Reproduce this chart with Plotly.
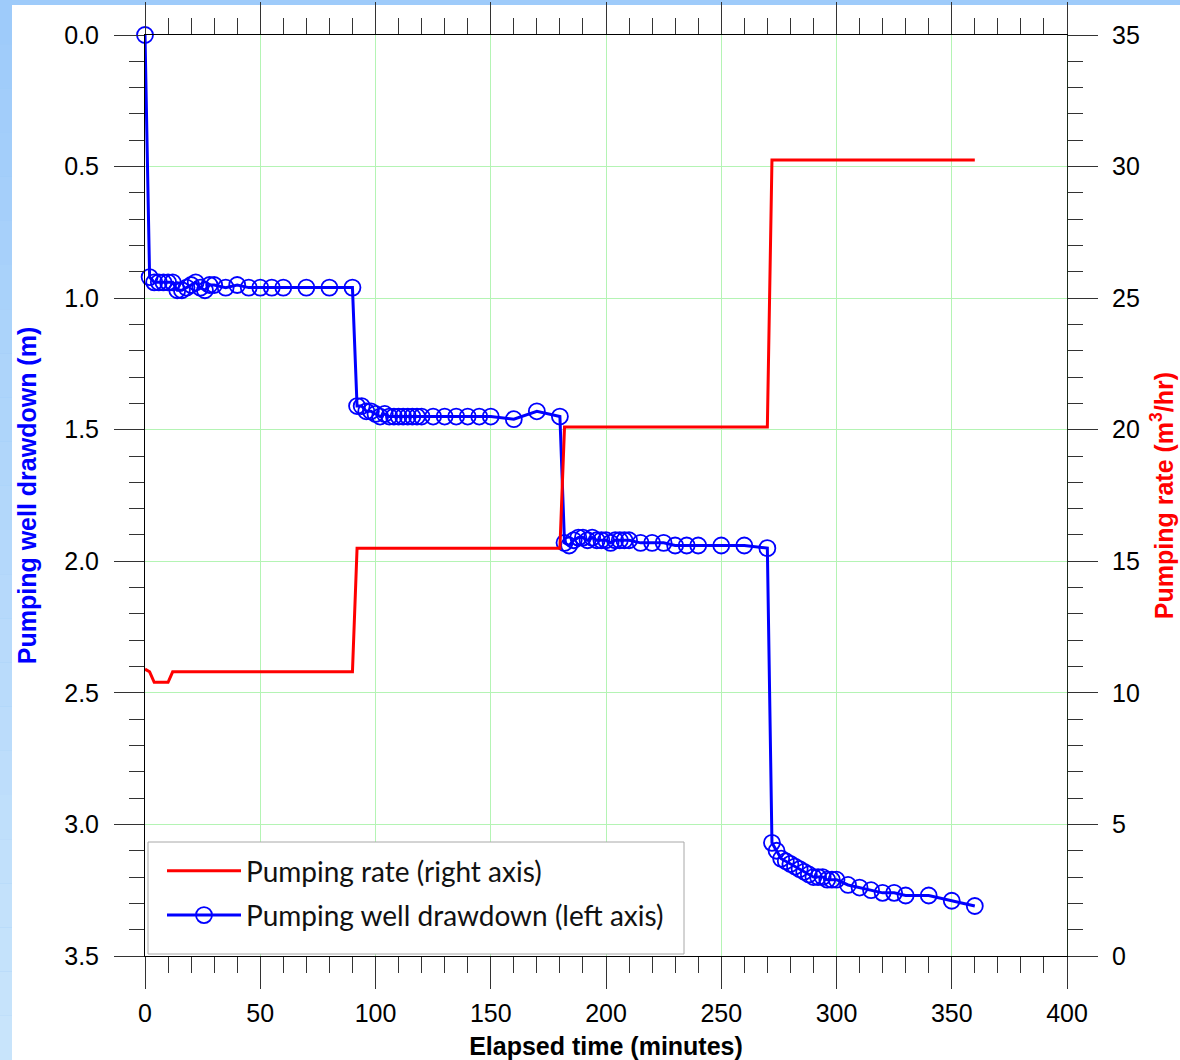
import plotly.graph_objects as go

# ---------------- data ----------------
time_min = [0, 2, 4, 6, 8, 10, 12, 14, 16, 18, 20, 22, 24, 26, 28, 30,
            35, 40, 45, 50, 55, 60, 70, 80, 90,
            92, 94, 96, 98, 100, 102, 104, 106, 108, 110, 112, 114, 116, 118, 120,
            125, 130, 135, 140, 145, 150, 160, 170, 180,
            182, 184, 186, 188, 190, 192, 194, 196, 198, 200, 202, 204, 206, 208, 210,
            215, 220, 225, 230, 235, 240, 250, 260, 270,
            272, 274, 276, 278, 280, 282, 284, 286, 288, 290, 292, 294, 296, 298, 300,
            305, 310, 315, 320, 325, 330, 340, 350, 360]

drawdown_m = [0.00, 0.92, 0.94, 0.94, 0.94, 0.94, 0.94, 0.97, 0.97, 0.96, 0.95, 0.94, 0.96, 0.97, 0.95, 0.95,
              0.96, 0.95, 0.96, 0.96, 0.96, 0.96, 0.96, 0.96, 0.96,
              1.41, 1.41, 1.43, 1.43, 1.44, 1.45, 1.44, 1.45, 1.45, 1.45, 1.45, 1.45, 1.45, 1.45, 1.45,
              1.45, 1.45, 1.45, 1.45, 1.45, 1.45, 1.46, 1.43, 1.45,
              1.93, 1.94, 1.92, 1.91, 1.91, 1.92, 1.91, 1.92, 1.92, 1.92, 1.93, 1.92, 1.92, 1.92, 1.92,
              1.93, 1.93, 1.93, 1.94, 1.94, 1.94, 1.94, 1.94, 1.95,
              3.07, 3.10, 3.13, 3.14, 3.15, 3.16, 3.17, 3.18, 3.19, 3.20, 3.20, 3.20, 3.21, 3.21, 3.21,
              3.23, 3.24, 3.25, 3.26, 3.26, 3.27, 3.27, 3.29, 3.31]

rate_time = [0, 2, 4, 10, 12, 90, 92, 180, 182, 270, 272, 360]
rate_m3hr = [10.9, 10.8, 10.4, 10.4, 10.8, 10.8, 15.5, 15.5, 20.1, 20.1, 30.25, 30.25]

x_ticks = [0, 50, 100, 150, 200, 250, 300, 350, 400]
y_left_ticks = [0.0, 0.5, 1.0, 1.5, 2.0, 2.5, 3.0, 3.5]
y_right_ticks = [0, 5, 10, 15, 20, 25, 30, 35]

# ---------------- figure ----------------
AX_FONT = "Liberation Sans, Arial, sans-serif"
TICK_COL = "#333333"
GRID_COL = "#b4f4b4"

fig = go.Figure()
fig.add_trace(go.Scatter(
    x=time_min, y=drawdown_m, yaxis="y", mode="lines+markers",
    name="Pumping well drawdown (left axis)", legendgroup="dd", legendrank=2,
    line=dict(color="#0000ff", width=3), cliponaxis=False,
    marker=dict(symbol="circle-open", size=16, color="#0000ff", line=dict(width=1.8, color="#0000ff")),
))
fig.add_trace(go.Scatter(
    x=rate_time, y=rate_m3hr, yaxis="y2", mode="lines",
    name="Pumping rate (right axis)", legendgroup="q", legendrank=1,
    line=dict(color="#ff0000", width=3),
))

# page background: blue frame with white sheet
PW, PH = 922.0, 921.0
ML, MB = 145.0, 104.0
shapes = []
top_rgb = (158, 203, 250)
bot_rgb = (200, 228, 251)
N = 24
for i in range(N):
    f = i / (N - 1)
    c = tuple(int(round(bot_rgb[k] + (top_rgb[k] - bot_rgb[k]) * f)) for k in range(3))
    y0 = (-MB + i * 1060.0 / N) / PH
    y1 = (-MB + (i + 1) * 1060.0 / N) / PH
    shapes.append(dict(type="rect", xref="paper", yref="paper", layer="below",
                       x0=-ML / PW, x1=(12 - ML) / PW, y0=y0, y1=y1,
                       line=dict(width=0), fillcolor="rgb(%d,%d,%d)" % c))
shapes.append(dict(type="rect", xref="paper", yref="paper", layer="below",
                   x0=(12 - ML) / PW, x1=(1180 - ML) / PW + 0.01,
                   y0=-MB / PH - 0.01, y1=(1060 - 5 - MB) / PH,
                   line=dict(width=0), fillcolor="white"))
# legend frame
shapes.append(dict(type="rect", xref="paper", yref="paper", layer="above",
                   x0=(148 - ML) / PW, x1=(684 - ML) / PW,
                   y0=(956 - 954) / PH, y1=(956 - 842) / PH,
                   line=dict(width=1, color="#a8a8a8"), fillcolor="white"))

fig.update_layout(
    width=1180, height=1060, autosize=False,
    margin=dict(l=145, r=113, t=35, b=104, pad=0),
    paper_bgcolor="rgb(158,203,250)",
    plot_bgcolor="rgba(0,0,0,0)",
    shapes=shapes,
    showlegend=True,
    legend=dict(
        x=(162 - ML) / PW, y=(956 - 846) / PH, xanchor="left", yanchor="top",
        bgcolor="rgba(0,0,0,0)", borderwidth=0,
        font=dict(family="Lato, Open Sans, sans-serif", size=28, color="#111111"),
        traceorder="grouped", tracegroupgap=5, itemwidth=74,
    ),
    xaxis=dict(
        range=[0, 400], tickmode="array", tickvals=x_ticks, automargin=False,
        ticks="outside", ticklen=32, tickwidth=1, tickcolor=TICK_COL,
        showline=True, linecolor="black", linewidth=1, mirror="ticks",
        showgrid=True, gridcolor=GRID_COL, gridwidth=1, zeroline=False,
        minor=dict(dtick=10, tick0=0, ticks="outside", ticklen=16, tickcolor=TICK_COL, showgrid=False),
        tickfont=dict(family=AX_FONT, size=25, color="black"),
        ticklabelstandoff=3,
        title=dict(text="<b>Elapsed time (minutes)</b>", standoff=11,
                   font=dict(family=AX_FONT, size=25, color="black")),
    ),
    yaxis=dict(
        range=[3.5, 0], tickmode="array", tickvals=y_left_ticks, tickformat=".1f", automargin=False,
        ticks="outside", ticklen=30, tickwidth=1, tickcolor=TICK_COL,
        showline=True, linecolor="black", linewidth=1,
        showgrid=True, gridcolor=GRID_COL, gridwidth=1, zeroline=False,
        minor=dict(dtick=0.1, tick0=0, ticks="outside", ticklen=15, tickcolor=TICK_COL, showgrid=False),
        tickfont=dict(family=AX_FONT, size=25, color="black"),
        ticklabelstandoff=10,
        title=dict(text="<b>Pumping well drawdown (m)</b>", standoff=20,
                   font=dict(family=AX_FONT, size=25, color="#0000ff")),
    ),
    yaxis2=dict(
        overlaying="y", side="right", range=[0, 35], tickmode="array", tickvals=y_right_ticks,
        automargin=False,
        ticks="outside", ticklen=30, tickwidth=1, tickcolor=TICK_COL,
        showline=True, linecolor="#1a2a1a", linewidth=1,
        showgrid=False, zeroline=False,
        minor=dict(dtick=1, tick0=0, ticks="outside", ticklen=15, tickcolor=TICK_COL, showgrid=False),
        tickfont=dict(family=AX_FONT, size=25, color="black"),
        ticklabelstandoff=9,
        title=dict(text="<b>Pumping rate (m<sup>3</sup>/hr)</b>", standoff=16,
                   font=dict(family=AX_FONT, size=25, color="#ff0000")),
    ),
)

fig.write_html("out.html")
